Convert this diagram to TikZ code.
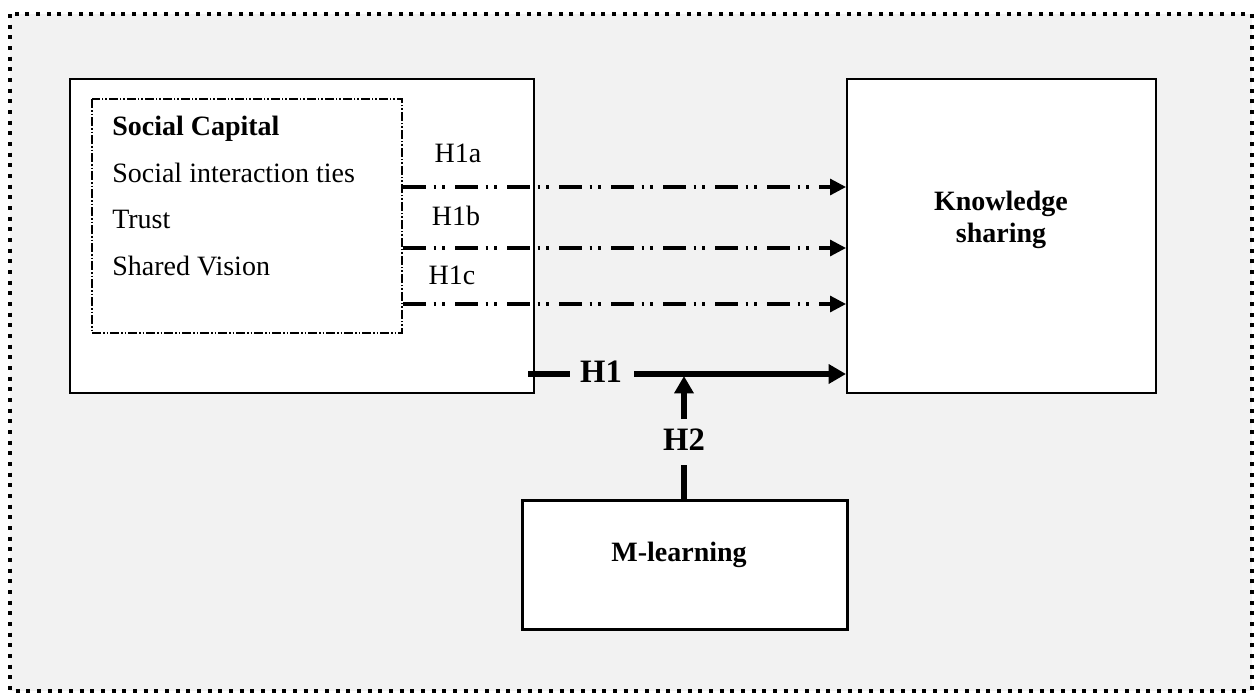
\documentclass[tikz,border=0pt]{standalone}
\usepackage{fontspec}
\setmainfont{Liberation Serif}
\usetikzlibrary{arrows.meta}
\definecolor{bggray}{HTML}{F2F2F2}
\tikzset{
  lbl/.style={font=\fontsize{21}{25}\selectfont, inner sep=0pt, anchor=base west},
  hlbl/.style={font=\fontsize{21}{25}\selectfont, inner sep=0pt, anchor=base},
  blbl/.style={font=\bfseries\fontsize{24.5}{28}\selectfont, inner sep=0pt, anchor=base},
  box/.style={draw=black, fill=white, line width=1.6pt},
  ddline/.style={line width=2.4pt, dash pattern=on 17pt off 6pt on 2pt off 4.5pt on 2pt off 7.5pt,
    -{Triangle[length=12pt,width=12pt]}},
  thick arrow/.style={line width=4.5pt, -{Triangle[length=13pt,width=14pt]}},
}
\begin{document}
\begin{tikzpicture}[x=0.75pt,y=-0.75pt]
\useasboundingbox (0,0) rectangle (1254,693);
% outer frame
\fill[bggray] (10,14) rectangle (1252,691);
\draw[line width=3pt, dash pattern=on 3pt off 5pt] (10,14) rectangle (1252,691);
% left box
\draw[box] (70,79) rectangle (534,393);
% inner dash-dot box
\draw[line width=0.8pt, dash pattern=on 7pt off 1.5pt on 1pt off 1.5pt on 1pt off 1.5pt]
  (92,99) rectangle (402,333);
\node[lbl, font=\bfseries\fontsize{21}{25}\selectfont] (sc) at (112,135) {Social Capital};
\node[lbl] (sit) at (112,182) {Social interaction ties};
\node[lbl] (tr) at (112,228) {Trust};
\node[lbl] (sv) at (112,275) {Shared Vision};
% right box
\draw[box] (847,79) rectangle (1156,393);
\node[font=\bfseries\fontsize{21}{24}\selectfont, align=center, inner sep=0pt] (ks) at (1001,220) {Knowledge\\sharing};
% M-learning box
\node[draw=black, fill=white, line width=2.5pt, inner sep=0pt,
      minimum width=244pt, minimum height=97pt] (ml) at (685,565) {};
\node[font=\bfseries\fontsize{21}{25}\selectfont, inner sep=0pt] (mlt) at (679,555) {M-learning};
% dash-dot arrows
\coordinate (a1) at (403,187); \coordinate (a1e) at (846,187);
\coordinate (a2) at (403,248); \coordinate (a2e) at (846,248);
\coordinate (a3) at (403,304); \coordinate (a3e) at (846,304);
\draw[ddline] (a1) -- (a1e);
\draw[ddline] (a2) -- (a2e);
\draw[ddline] (a3) -- (a3e);
\node[hlbl] (h1a) at (458,162) {H1a};
\node[hlbl] (h1b) at (456,225) {H1b};
\node[hlbl] (h1c) at (452,284) {H1c};
% H1
\node[blbl] (h1) at (601,382) {H1};
\coordinate (h1s) at (528,374);
\coordinate (h1m) at (570,374);
\coordinate (h1r) at (634,374);
\coordinate (h1e) at (846,374);
\draw[line width=4.5pt] (h1s) -- (h1m);
\draw[thick arrow] (h1r) -- (h1e);
% H2
\node[blbl] (h2) at (684,450) {H2};
\coordinate (h2t) at (684,376);
\coordinate (h2a) at (684,419);
\coordinate (h2b) at (684,465);
\draw[line width=4.5pt] (ml.north -| h2b) -- (h2b);
\draw[thick arrow] (h2a) -- (h2t);
\end{tikzpicture}
\end{document}
